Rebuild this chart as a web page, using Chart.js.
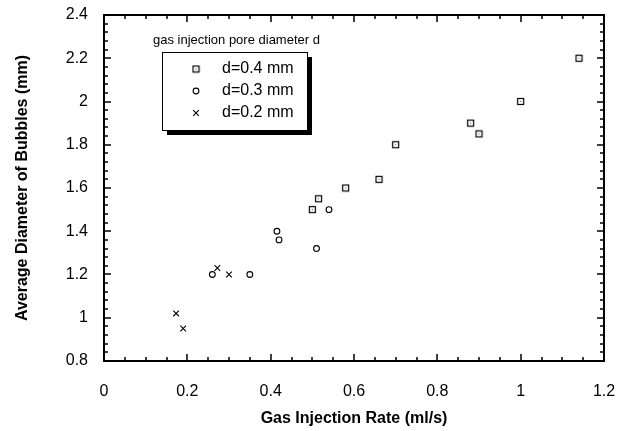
<!DOCTYPE html>
<html>
<head>
<meta charset="utf-8">
<script src="https://cdn.jsdelivr.net/npm/chart.js@4.4.1/dist/chart.umd.min.js"></script>
<style>
    html, body { margin: 0; padding: 0; background: #fff; }
</style>
</head>
<body>
<canvas id="bubbleChart" width="621" height="431"></canvas>
<script>
// gas injection rate (ml/s) vs average bubble diameter (mm), per pore diameter
const rate04 = [0.5, 0.515, 0.58, 0.66, 0.70, 0.88, 0.90, 1.0, 1.14];
const diam04 = [1.5, 1.55, 1.6, 1.64, 1.8, 1.9, 1.85, 2.0, 2.2];
const rate03 = [0.26, 0.35, 0.415, 0.42, 0.51, 0.54];
const diam03 = [1.2, 1.2, 1.4, 1.36, 1.32, 1.5];
const rate02 = [0.173, 0.19, 0.272, 0.30];
const diam02 = [1.02, 0.95, 1.23, 1.2];

const seriesLabels = ['d=0.4 mm', 'd=0.3 mm', 'd=0.2 mm'];
const legendTitle = 'gas injection pore diameter d';
const xTitle = 'Gas Injection Rate (ml/s)';
const yTitle = 'Average Diameter of Bubbles (mm)';

const xMin = 0, xMax = 1.2, xStep = 0.2, xMinorStep = 0.05;
const yMin = 0.8, yMax = 2.4, yStep = 0.2, yMinorStep = 0.04;

const FONT = '"Liberation Sans", Arial, sans-serif';

function toPoints(xs, ys) {
    return xs.map((x, i) => ({ x: x, y: ys[i] }));
}

// hollow square with a small dot in the middle
function makeSquareMarker() {
    const c = document.createElement('canvas');
    c.width = 9;
    c.height = 9;
    const g = c.getContext('2d');
    g.strokeStyle = '#000';
    g.lineWidth = 1.2;
    g.strokeRect(1.5, 1.5, 6, 6);
    g.fillStyle = '#555';
    g.fillRect(4, 4, 1, 1);
    return c;
}
const squareMarker = makeSquareMarker();

// box frame with inward ticks on all four sides
const framePlugin = {
    id: 'frame',
    afterDraw(chart) {
        const ctx = chart.ctx;
        const a = chart.chartArea;
        const xs = chart.scales.x;
        const ys = chart.scales.y;
        ctx.save();
        ctx.strokeStyle = '#000';
        ctx.lineWidth = 1.5;
        ctx.beginPath();
        for (let i = 0; xMin + i * xMinorStep <= xMax + 1e-9; i++) {
            const v = xMin + i * xMinorStep;
            const px = Math.round(xs.getPixelForValue(v));
            const len = (i % Math.round(xStep / xMinorStep) === 0) ? 7 : 4;
            ctx.moveTo(px, a.bottom); ctx.lineTo(px, a.bottom - len);
            ctx.moveTo(px, a.top); ctx.lineTo(px, a.top + len);
        }
        for (let i = 0; yMin + i * yMinorStep <= yMax + 1e-9; i++) {
            const v = yMin + i * yMinorStep;
            const py = Math.round(ys.getPixelForValue(v));
            const len = (i % Math.round(yStep / yMinorStep) === 0) ? 7 : 4;
            ctx.moveTo(a.left, py); ctx.lineTo(a.left + len, py);
            ctx.moveTo(a.right, py); ctx.lineTo(a.right - len, py);
        }
        ctx.stroke();
        ctx.lineWidth = 2;
        ctx.strokeRect(a.left, a.top, a.right - a.left, a.bottom - a.top);
        ctx.restore();
    }
};

// boxed legend with drop shadow and a title above it
const boxLegendPlugin = {
    id: 'boxLegend',
    afterDraw(chart) {
        const ctx = chart.ctx;
        const box = { x: 162, y: 52, w: 145, h: 78 };
        ctx.save();
        ctx.fillStyle = '#000';
        ctx.fillRect(box.x + 5, box.y + 5, box.w, box.h);
        ctx.fillStyle = '#fff';
        ctx.fillRect(box.x, box.y, box.w, box.h);
        ctx.strokeStyle = '#000';
        ctx.lineWidth = 1;
        ctx.strokeRect(box.x + 0.5, box.y + 0.5, box.w, box.h);

        ctx.fillStyle = '#000';
        ctx.textBaseline = 'middle';
        ctx.textAlign = 'left';
        ctx.font = '13px ' + FONT;
        ctx.fillText(legendTitle, 153, 40);

        ctx.font = '16px ' + FONT;
        chart.data.datasets.forEach((ds, i) => {
            const cy = 69 + i * 22;
            ctx.save();
            ctx.strokeStyle = '#000';
            ctx.fillStyle = 'rgba(0,0,0,0)';
            ctx.lineWidth = ds.borderWidth;
            Chart.helpers.drawPoint(ctx, {
                pointStyle: ds.pointStyle,
                radius: ds.pointRadius,
                borderWidth: ds.borderWidth
            }, 196, cy);
            ctx.restore();
            ctx.fillText(ds.label, 222, cy);
        });
        ctx.restore();
    }
};

function plainTick(value) {
    return String(Number(value.toFixed(2)));
}

const ctx = document.getElementById('bubbleChart').getContext('2d');
const chart = new Chart(ctx, {
    type: 'scatter',
    data: {
        datasets: [
            {
                label: seriesLabels[0],
                data: toPoints(rate04, diam04),
                pointStyle: squareMarker,
                pointRadius: 4,
                borderColor: '#000',
                backgroundColor: 'rgba(0,0,0,0)',
                borderWidth: 1.2
            },
            {
                label: seriesLabels[1],
                data: toPoints(rate03, diam03),
                pointStyle: 'circle',
                pointRadius: 2.9,
                borderColor: '#000',
                backgroundColor: 'rgba(0,0,0,0)',
                borderWidth: 1.1
            },
            {
                label: seriesLabels[2],
                data: toPoints(rate02, diam02),
                pointStyle: 'crossRot',
                pointRadius: 4,
                borderColor: '#000',
                backgroundColor: 'rgba(0,0,0,0)',
                borderWidth: 1.1
            }
        ]
    },
    options: {
        responsive: false,
        animation: false,
        layout: { padding: { top: 15, right: 17, bottom: 0, left: 0 } },
        plugins: {
            legend: { display: false },
            tooltip: { enabled: false }
        },
        scales: {
            x: {
                type: 'linear',
                min: xMin,
                max: xMax,
                grid: { display: false, drawTicks: false },
                border: { display: false },
                ticks: {
                    stepSize: xStep,
                    padding: 21,
                    color: '#000',
                    font: { family: FONT, size: 16 },
                    callback: plainTick
                },
                title: {
                    display: true,
                    text: xTitle,
                    color: '#000',
                    padding: { top: 0, bottom: 3 },
                    font: { family: FONT, size: 16, weight: 'bold' }
                },
                afterFit(scale) {
                    scale.height = 70;
                    scale.paddingLeft = 0;
                    scale.paddingRight = 0;
                }
            },
            y: {
                type: 'linear',
                min: yMin,
                max: yMax,
                grid: { display: false, drawTicks: false },
                border: { display: false },
                ticks: {
                    stepSize: yStep,
                    padding: 16,
                    color: '#000',
                    font: { family: FONT, size: 16 },
                    callback: plainTick
                },
                title: {
                    display: true,
                    text: yTitle,
                    color: '#000',
                    padding: { top: 13, bottom: 0 },
                    font: { family: FONT, size: 16, weight: 'bold' }
                },
                afterFit(scale) {
                    scale.width = 104;
                    scale.paddingTop = 0;
                    scale.paddingBottom = 0;
                }
            }
        }
    },
    plugins: [framePlugin, boxLegendPlugin]
});
</script>
</body>
</html>
